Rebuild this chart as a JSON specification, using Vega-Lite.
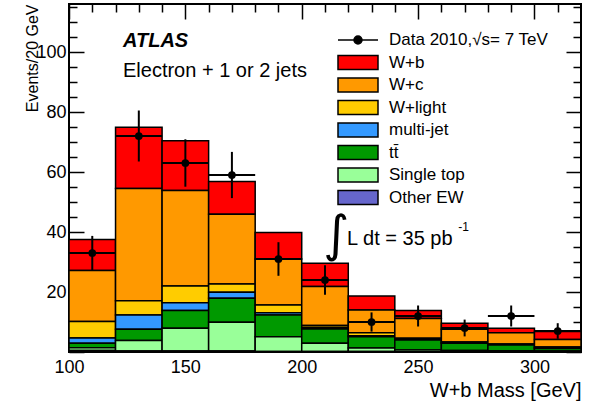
{
  "$schema": "https://vega.github.io/schema/vega-lite/v6.json",
  "width": 512,
  "height": 348,
  "autosize": {"type": "none"},
  "padding": {"left": 69, "top": 4, "right": 23, "bottom": 50},
  "background": "white",
  "config": {
    "font": "Liberation Sans",
    "view": {"stroke": "black", "strokeWidth": 2},
    "axis": {"domain": false, "grid": false, "tickColor": "black", "tickWidth": 1.5, "labelColor": "black", "labelFontSize": 18, "titleColor": "black", "titleFontSize": 20, "titleFontWeight": "normal", "labelOverlap": false, "labelFlush": false}
  },
  "datasets": {
    "stack": [
      {"lo":100,"hi":120,"comp":"W+b","k":1,"v":10.3},{"lo":100,"hi":120,"comp":"W+c","k":2,"v":17.0},{"lo":100,"hi":120,"comp":"W+light","k":3,"v":5.5},{"lo":100,"hi":120,"comp":"multi-jet","k":4,"v":1.8},{"lo":100,"hi":120,"comp":"tt̄","k":5,"v":1.5},{"lo":100,"hi":120,"comp":"Single top","k":6,"v":0.9},{"lo":100,"hi":120,"comp":"Other EW","k":7,"v":0.5},
      {"lo":120,"hi":140,"comp":"W+b","k":1,"v":20.4},{"lo":120,"hi":140,"comp":"W+c","k":2,"v":37.4},{"lo":120,"hi":140,"comp":"W+light","k":3,"v":4.8},{"lo":120,"hi":140,"comp":"multi-jet","k":4,"v":4.7},{"lo":120,"hi":140,"comp":"tt̄","k":5,"v":3.8},{"lo":120,"hi":140,"comp":"Single top","k":6,"v":3.5},{"lo":120,"hi":140,"comp":"Other EW","k":7,"v":0.3},
      {"lo":140,"hi":160,"comp":"W+b","k":1,"v":16.6},{"lo":140,"hi":160,"comp":"W+c","k":2,"v":31.8},{"lo":140,"hi":160,"comp":"W+light","k":3,"v":5.6},{"lo":140,"hi":160,"comp":"multi-jet","k":4,"v":2.6},{"lo":140,"hi":160,"comp":"tt̄","k":5,"v":5.9},{"lo":140,"hi":160,"comp":"Single top","k":6,"v":7.6},{"lo":140,"hi":160,"comp":"Other EW","k":7,"v":0.3},
      {"lo":160,"hi":180,"comp":"W+b","k":1,"v":10.9},{"lo":160,"hi":180,"comp":"W+c","k":2,"v":23.2},{"lo":160,"hi":180,"comp":"W+light","k":3,"v":2.8},{"lo":160,"hi":180,"comp":"multi-jet","k":4,"v":2.0},{"lo":160,"hi":180,"comp":"tt̄","k":5,"v":8.0},{"lo":160,"hi":180,"comp":"Single top","k":6,"v":9.6},{"lo":160,"hi":180,"comp":"Other EW","k":7,"v":0.3},
      {"lo":180,"hi":200,"comp":"W+b","k":1,"v":8.8},{"lo":180,"hi":200,"comp":"W+c","k":2,"v":15.3},{"lo":180,"hi":200,"comp":"W+light","k":3,"v":2.6},{"lo":180,"hi":200,"comp":"multi-jet","k":4,"v":0.8},{"lo":180,"hi":200,"comp":"tt̄","k":5,"v":7.2},{"lo":180,"hi":200,"comp":"Single top","k":6,"v":4.9},{"lo":180,"hi":200,"comp":"Other EW","k":7,"v":0.2},
      {"lo":200,"hi":220,"comp":"W+b","k":1,"v":7.8},{"lo":200,"hi":220,"comp":"W+c","k":2,"v":13.0},{"lo":200,"hi":220,"comp":"W+light","k":3,"v":0.6},{"lo":200,"hi":220,"comp":"multi-jet","k":4,"v":0.5},{"lo":200,"hi":220,"comp":"tt̄","k":5,"v":4.8},{"lo":200,"hi":220,"comp":"Single top","k":6,"v":2.7},{"lo":200,"hi":220,"comp":"Other EW","k":7,"v":0.2},
      {"lo":220,"hi":240,"comp":"W+b","k":1,"v":4.7},{"lo":220,"hi":240,"comp":"W+c","k":2,"v":7.6},{"lo":220,"hi":240,"comp":"W+light","k":3,"v":1.0},{"lo":220,"hi":240,"comp":"multi-jet","k":4,"v":0.3},{"lo":220,"hi":240,"comp":"tt̄","k":5,"v":3.8},{"lo":220,"hi":240,"comp":"Single top","k":6,"v":1.1},{"lo":220,"hi":240,"comp":"Other EW","k":7,"v":0.2},
      {"lo":240,"hi":260,"comp":"W+b","k":1,"v":2.6},{"lo":240,"hi":260,"comp":"W+c","k":2,"v":6.6},{"lo":240,"hi":260,"comp":"W+light","k":3,"v":0.4},{"lo":240,"hi":260,"comp":"multi-jet","k":4,"v":0.2},{"lo":240,"hi":260,"comp":"tt̄","k":5,"v":3.3},{"lo":240,"hi":260,"comp":"Single top","k":6,"v":0.6},{"lo":240,"hi":260,"comp":"Other EW","k":7,"v":0.1},
      {"lo":260,"hi":280,"comp":"W+b","k":1,"v":2.0},{"lo":260,"hi":280,"comp":"W+c","k":2,"v":4.3},{"lo":260,"hi":280,"comp":"W+light","k":3,"v":0.3},{"lo":260,"hi":280,"comp":"multi-jet","k":4,"v":0.1},{"lo":260,"hi":280,"comp":"tt̄","k":5,"v":2.4},{"lo":260,"hi":280,"comp":"Single top","k":6,"v":0.4},{"lo":260,"hi":280,"comp":"Other EW","k":7,"v":0.1},
      {"lo":280,"hi":300,"comp":"W+b","k":1,"v":1.5},{"lo":280,"hi":300,"comp":"W+c","k":2,"v":3.7},{"lo":280,"hi":300,"comp":"W+light","k":3,"v":0.3},{"lo":280,"hi":300,"comp":"multi-jet","k":4,"v":0.1},{"lo":280,"hi":300,"comp":"tt̄","k":5,"v":1.9},{"lo":280,"hi":300,"comp":"Single top","k":6,"v":0.3},{"lo":280,"hi":300,"comp":"Other EW","k":7,"v":0.1},
      {"lo":300,"hi":320,"comp":"W+b","k":1,"v":2.6},{"lo":300,"hi":320,"comp":"W+c","k":2,"v":2.5},{"lo":300,"hi":320,"comp":"W+light","k":3,"v":0.4},{"lo":300,"hi":320,"comp":"multi-jet","k":4,"v":0.1},{"lo":300,"hi":320,"comp":"tt̄","k":5,"v":0.9},{"lo":300,"hi":320,"comp":"Single top","k":6,"v":0.2},{"lo":300,"hi":320,"comp":"Other EW","k":7,"v":0.1}
    ],
    "data": [
      {"x":110,"xlo":100,"xhi":120,"y":33,"ylo":27.3,"yhi":38.7},
      {"x":130,"xlo":120,"xhi":140,"y":72,"ylo":63.5,"yhi":80.5},
      {"x":150,"xlo":140,"xhi":160,"y":63,"ylo":55.1,"yhi":70.9},
      {"x":170,"xlo":160,"xhi":180,"y":59,"ylo":51.3,"yhi":66.7},
      {"x":190,"xlo":180,"xhi":200,"y":31,"ylo":25.4,"yhi":36.6},
      {"x":210,"xlo":200,"xhi":220,"y":24,"ylo":19.1,"yhi":28.9},
      {"x":230,"xlo":220,"xhi":240,"y":10,"ylo":6.8,"yhi":13.2},
      {"x":250,"xlo":240,"xhi":260,"y":12,"ylo":8.5,"yhi":15.5},
      {"x":270,"xlo":260,"xhi":280,"y":8,"ylo":5.2,"yhi":10.8},
      {"x":290,"xlo":280,"xhi":300,"y":12,"ylo":8.5,"yhi":15.5},
      {"x":310,"xlo":300,"xhi":320,"y":7,"ylo":4.4,"yhi":9.6}
    ]
  },
  "resolve": {"axis": {"x": "independent", "y": "independent"}},
  "layer": [
    {
      "data": {"name": "stack"},
      "transform": [{"stack": "v", "groupby": ["lo"], "sort": [{"field": "k", "order": "descending"}], "as": ["y0", "y1"]}],
      "mark": {"type": "bar", "stroke": "black", "strokeWidth": 1.5},
      "encoding": {
        "x": {"field": "lo", "type": "quantitative", "scale": {"domain": [100, 320], "nice": false, "zero": false},
          "axis": {"orient": "bottom", "values": [100, 150, 200, 250, 300],
            "tickSize": -15, "labelPadding": 21, "title": "W+b Mass [GeV]", "titleAnchor": "end", "titlePadding": 4}},
        "x2": {"field": "hi"},
        "y": {"field": "y1", "type": "quantitative", "scale": {"domain": [0, 116], "nice": false},
          "axis": {"orient": "left", "values": [0, 20, 40, 60, 80, 100],
            "labelExpr": "datum.value > 0 ? datum.label : ''",
            "tickSize": -15, "labelPadding": 18, "title": "Events/20 GeV", "titleAnchor": "end", "titleFontSize": 16, "titlePadding": -5}},
        "y2": {"field": "y0"},
        "fill": {"field": "comp", "type": "nominal",
          "scale": {"domain": ["Data 2010,√s= 7 TeV", "W+b", "W+c", "W+light", "multi-jet", "tt̄", "Single top", "Other EW"],
                    "range": ["black", "#ff0000", "#ff9900", "#ffcc00", "#3399ff", "#009900", "#99ff99", "#6666cc"]},
          "legend": {"orient": "none", "legendX": 268, "legendY": 27, "title": null, "padding": 0,
            "labelFontSize": 17, "labelColor": "black", "labelOffset": 10, "labelLimit": 300,
            "symbolSize": 1600, "symbolStrokeColor": "black", "symbolStrokeWidth": 1.5, "symbolOpacity": 1,
            "clipHeight": 18, "rowPadding": 4.5,
            "encode": {"symbols": {"update": {"shape": {"signal": "datum.value === 'Data 2010,√s= 7 TeV' ? 'M-1,0H1M-0.2,0A0.2,0.2,0,1,0,0.2,0A0.2,0.2,0,1,0,-0.2,0Z' : 'M-1,-0.35H1V0.35H-1Z'"}, "strokeWidth": {"value": 1.5}, "stroke": {"value": "black"}}}}}}
      }
    },
    {
      "data": {"name": "data"},
      "mark": {"type": "rule", "color": "black", "strokeWidth": 2},
      "encoding": {
        "x": {"field": "x", "type": "quantitative", "scale": {"domain": [100, 320], "nice": false, "zero": false},
          "axis": {"orient": "top", "values": [100, 150, 200, 250, 300], "labels": false, "title": null, "tickSize": -15}},
        "y": {"field": "ylo", "type": "quantitative", "scale": {"domain": [0, 116], "nice": false},
          "axis": {"orient": "right", "values": [0, 20, 40, 60, 80, 100], "labels": false, "title": null, "tickSize": -15}},
        "y2": {"field": "yhi"}
      }
    },
    {
      "data": {"name": "data"},
      "mark": {"type": "rule", "color": "black", "strokeWidth": 2},
      "encoding": {
        "x": {"field": "xlo", "type": "quantitative", "scale": {"domain": [100, 320], "nice": false, "zero": false},
          "axis": {"orient": "bottom", "values": [110,120,130,140,160,170,180,190,210,220,230,240,260,270,280,290,310], "labels": false, "title": null, "tickSize": -8}},
        "x2": {"field": "xhi"},
        "y": {"field": "y", "type": "quantitative", "scale": {"domain": [0, 116], "nice": false},
          "axis": {"orient": "left", "values": [5,10,15,25,30,35,45,50,55,65,70,75,85,90,95,105,110,115], "labels": false, "title": null, "tickSize": -8}}
      }
    },
    {
      "data": {"name": "data"},
      "mark": {"type": "point", "filled": true, "shape": "circle", "color": "black", "size": 60, "opacity": 1},
      "encoding": {
        "x": {"field": "x", "type": "quantitative", "scale": {"domain": [100, 320], "nice": false, "zero": false},
          "axis": {"orient": "top", "values": [110,120,130,140,160,170,180,190,210,220,230,240,260,270,280,290,310], "labels": false, "title": null, "tickSize": -8}},
        "y": {"field": "y", "type": "quantitative", "scale": {"domain": [0, 116], "nice": false},
          "axis": {"orient": "right", "values": [5,10,15,25,30,35,45,50,55,65,70,75,85,90,95,105,110,115], "labels": false, "title": null, "tickSize": -8}}
      }
    },
    {
      "data": {"values": [{"x": 123.2, "y": 101.8, "t": "ATLAS"}]},
      "mark": {"type": "text", "align": "left", "baseline": "alphabetic", "fontSize": 20, "fontWeight": "bold", "fontStyle": "italic", "color": "black"},
      "encoding": {
        "x": {"field": "x", "type": "quantitative", "scale": {"domain": [100, 320], "nice": false, "zero": false}, "axis": null},
        "y": {"field": "y", "type": "quantitative", "scale": {"domain": [0, 116], "nice": false}, "axis": null},
        "text": {"field": "t"}
      }
    },
    {
      "data": {"values": [{"x": 123.2, "y": 91.8, "t": "Electron + 1 or 2 jets"}, {"x": 219.5, "y": 35.7, "t": "L dt = 35 pb"}]},
      "mark": {"type": "text", "align": "left", "baseline": "alphabetic", "fontSize": 20, "color": "black"},
      "encoding": {
        "x": {"field": "x", "type": "quantitative", "scale": {"domain": [100, 320], "nice": false, "zero": false}, "axis": null},
        "y": {"field": "y", "type": "quantitative", "scale": {"domain": [0, 116], "nice": false}, "axis": null},
        "text": {"field": "t"}
      }
    },
    {
      "data": {"values": [{"x": 209.3, "y": 33.8, "t": "∫"}]},
      "mark": {"type": "text", "align": "left", "baseline": "alphabetic", "fontSize": 50, "font": "DejaVu Sans", "fontWeight": "normal", "color": "black"},
      "encoding": {
        "x": {"field": "x", "type": "quantitative", "scale": {"domain": [100, 320], "nice": false, "zero": false}, "axis": null},
        "y": {"field": "y", "type": "quantitative", "scale": {"domain": [0, 116], "nice": false}, "axis": null},
        "text": {"field": "t"}
      }
    },
    {
      "data": {"values": [{"x": 267.3, "y": 40.3, "t": "-1"}]},
      "mark": {"type": "text", "align": "left", "baseline": "alphabetic", "fontSize": 12, "color": "black"},
      "encoding": {
        "x": {"field": "x", "type": "quantitative", "scale": {"domain": [100, 320], "nice": false, "zero": false}, "axis": null},
        "y": {"field": "y", "type": "quantitative", "scale": {"domain": [0, 116], "nice": false}, "axis": null},
        "text": {"field": "t"}
      }
    }
  ]
}
